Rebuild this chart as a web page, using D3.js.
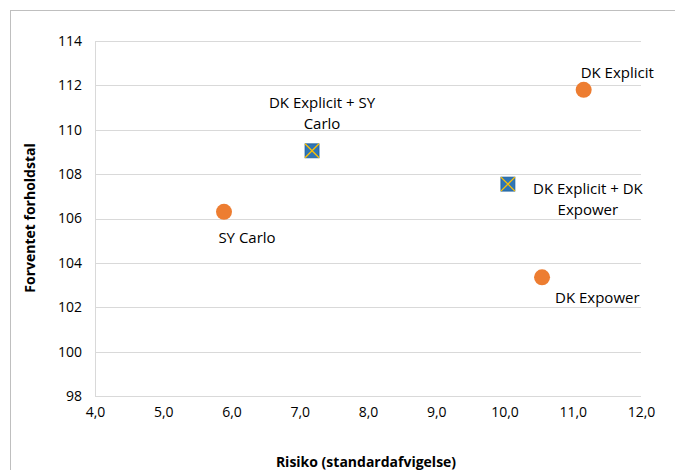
<!DOCTYPE html>
<html>
<head>
<meta charset="utf-8">
<script src="https://cdn.jsdelivr.net/npm/d3@7"></script>
<style>
  body { margin: 0; background: #fff; }
  svg text { font-family: "Open Sans", "Liberation Sans", sans-serif; fill: #000; }
</style>
</head>
<body>
<script>
// Single portfolios (orange circles)
var singleNames = ["SY Carlo", "DK Explicit", "DK Expower"];
var singleRisk = [5.89, 11.16, 10.55];
var singleRatio = [106.3, 111.8, 103.35];

// Combined portfolios (blue squares)
var comboNames = [["DK Explicit + SY", "Carlo"], ["DK Explicit + DK", "Expower"]];
var comboRisk = [7.18, 10.05];
var comboRatio = [109.05, 107.55];

var xTicks = [4, 5, 6, 7, 8, 9, 10, 11, 12];
var yTicks = [98, 100, 102, 104, 106, 108, 110, 112, 114];

var width = 675, height = 470;
// plot area edges (note: "top" is a window global, so use other names)
var plotLeft = 95, plotRight = 641, plotTop = 41, plotBottom = 396;

var svg = d3.select("body").append("svg")
    .attr("width", width)
    .attr("height", height);

// outer chart border
svg.append("rect")
    .attr("x", 10.5).attr("y", 10.5)
    .attr("width", 700).attr("height", 500)
    .attr("fill", "none").attr("stroke", "#bfbfbf");

var x = d3.scaleLinear().domain([4, 12]).range([plotLeft, plotRight]);
var y = d3.scaleLinear().domain([98, 114]).range([plotBottom, plotTop]);

// horizontal gridlines
svg.selectAll(".grid")
    .data(yTicks)
    .enter().append("line")
    .attr("x1", plotLeft).attr("x2", plotRight)
    .attr("y1", function(d) { return Math.round(y(d)) + 0.5; })
    .attr("y2", function(d) { return Math.round(y(d)) + 0.5; })
    .attr("stroke", "#d9d9d9");

// left axis line
svg.append("line")
    .attr("x1", plotLeft + 0.5).attr("x2", plotLeft + 0.5)
    .attr("y1", plotTop).attr("y2", plotBottom)
    .attr("stroke", "#d9d9d9");

// y tick labels
var yAxis = d3.axisLeft(y).tickValues(yTicks).tickSize(0).tickPadding(13);
var gy = svg.append("g").attr("transform", "translate(" + plotLeft + ",0)").call(yAxis);
gy.select(".domain").remove();
gy.selectAll("text").style("font-size", "14px");

// x tick labels
var fmt = function(d) { return d.toFixed(1).replace(".", ","); };
var xAxis = d3.axisBottom(x).tickValues(xTicks).tickSize(0).tickPadding(11).tickFormat(fmt);
var gx = svg.append("g").attr("transform", "translate(0," + plotBottom + ")").call(xAxis);
gx.select(".domain").remove();
gx.selectAll("text").style("font-size", "14px");

// axis titles
svg.append("text")
    .attr("x", (plotLeft + plotRight) / 2 - 2).attr("y", 467)
    .attr("text-anchor", "middle")
    .style("font-size", "14px").style("font-weight", "bold")
    .text("Risiko (standardafvigelse)");

svg.append("text")
    .attr("transform", "translate(35," + 218 + ") rotate(-90)")
    .attr("text-anchor", "middle")
    .style("font-size", "14px").style("font-weight", "bold")
    .text("Forventet forholdstal");

// single points
svg.selectAll(".single")
    .data(singleRisk)
    .enter().append("circle")
    .attr("cx", function(d) { return x(d); })
    .attr("cy", function(d, i) { return y(singleRatio[i]); })
    .attr("r", 8)
    .attr("fill", "#ed7d31");

// combined points
var s = 7;
var combos = svg.selectAll(".combo")
    .data(comboRisk)
    .enter().append("g")
    .attr("transform", function(d, i) { return "translate(" + x(d) + "," + y(comboRatio[i]) + ")"; });
combos.append("rect")
    .attr("x", -s).attr("y", -s).attr("width", 2 * s).attr("height", 2 * s)
    .attr("fill", "#2e75b6").attr("stroke", "#1f5f99").attr("stroke-width", 0.8);
combos.append("path")
    .attr("d", "M" + (-s) + "," + (-s) + "L" + s + "," + s + "M" + s + "," + (-s) + "L" + (-s) + "," + s)
    .attr("stroke", "#ffc000").attr("stroke-width", 1.3);

// labels for single points
var singleLabelPos = [
    { dx: 23, dy: 31, anchor: "middle" },
    { dx: -3, dy: -12, anchor: "start" },
    { dx: 13, dy: 26, anchor: "start" }
];
svg.selectAll(".slabel")
    .data(singleNames)
    .enter().append("text")
    .attr("x", function(d, i) { return x(singleRisk[i]) + singleLabelPos[i].dx; })
    .attr("y", function(d, i) { return y(singleRatio[i]) + singleLabelPos[i].dy; })
    .attr("text-anchor", function(d, i) { return singleLabelPos[i].anchor; })
    .style("font-size", "15px")
    .text(function(d) { return d; });

// labels for combined points (two centred lines each)
var comboLabelPos = [
    { dx: 10, dy: -43 },
    { dx: 80, dy: 10 }
];
comboNames.forEach(function(lines, i) {
    var cx = x(comboRisk[i]) + comboLabelPos[i].dx;
    var t = svg.append("text")
        .attr("x", cx)
        .attr("y", y(comboRatio[i]) + comboLabelPos[i].dy)
        .attr("text-anchor", "middle")
        .style("font-size", "15px");
    lines.forEach(function(l, j) {
        t.append("tspan")
            .attr("x", cx)
            .attr("dy", j === 0 ? 0 : 21)
            .text(l);
    });
});
</script>
</body>
</html>
